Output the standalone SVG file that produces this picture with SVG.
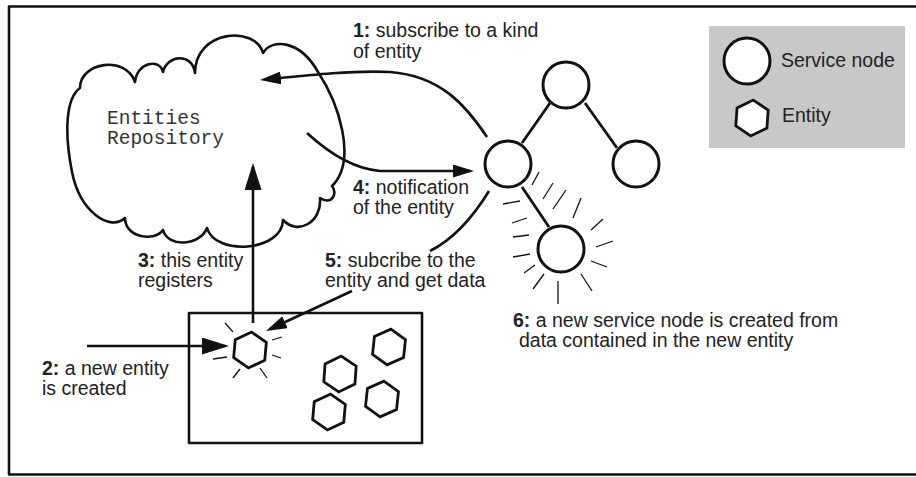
<svg xmlns="http://www.w3.org/2000/svg" width="916" height="477" viewBox="0 0 916 477">
  <style>
    .lbl { font-family: "Liberation Sans", Arial, Helvetica, sans-serif; font-size: 19.5px; fill: #222; }
    .mono { font-family: "Liberation Mono", "Courier New", monospace; font-size: 19.5px; fill: #333; }
    .b { font-weight: bold; }
    .stroke { fill: none; stroke: #111; stroke-width: 2.6; stroke-linejoin: round; }
    .node { fill: #fff; stroke: #111; stroke-width: 3; }
    .hex { fill: #fff; stroke: #111; stroke-width: 2.8; stroke-linejoin: miter; }
    .edge { fill: none; stroke: #111; stroke-width: 2.8; }
    .ray { fill: none; stroke: #111; stroke-width: 1.3; stroke-linecap: butt; }
    .conn { fill: none; stroke: #111; stroke-width: 2.6; }
  </style>
  <defs>
    <marker id="head-s" markerUnits="userSpaceOnUse" markerWidth="22" markerHeight="13" refX="17" refY="6.5" orient="auto">
      <path d="M0,0 L21,6.5 L0,13 z" fill="#111"/>
    </marker>
    <marker id="head-l" markerUnits="userSpaceOnUse" markerWidth="28" markerHeight="17" refX="23" refY="8.5" orient="auto">
      <path d="M0,0 L27,8.5 L0,17 z" fill="#111"/>
    </marker>
    <polygon id="hexagon" points="0,-18 15.6,-9 15.6,9 0,18 -15.6,9 -15.6,-9"/>
  </defs>

  <rect width="916" height="477" fill="#fff"/>
  <!-- outer frame -->
  <path d="M 930 6.5 L 9 6.5 L 9 474.5 L 930 474.5" class="stroke" stroke-width="2.8"/>

  <!-- repository cloud -->
  <g id="repository">
    <path class="stroke" d="M 80 88
      C 80 62, 126 55, 135 82
      C 137 62, 160 58, 163 72
      C 167 55, 192 52, 195 73
      C 195 30, 255 25, 263 53
      C 272 38, 300 40, 318 72
      C 338 102, 358 160, 332 186
      C 338 193, 332 206, 320 198
      C 322 222, 298 236, 283 220
      C 282 252, 215 256, 207 228
      C 200 246, 168 248, 163 230
      C 155 242, 125 238, 125 218
      C 110 232, 80 212, 72 172
      C 64 132, 66 98, 80 88 Z"/>
    <text class="mono" x="107" y="124">Entities</text>
    <text class="mono" x="107" y="144">Repository</text>
  </g>

  <!-- legend -->
  <g id="legend">
    <rect x="709" y="26" width="196" height="122" fill="#c8c8c8"/>
    <circle cx="747" cy="61" r="23" class="node"/>
    <text class="lbl" x="781" y="67">Service node</text>
    <use href="#hexagon" class="hex" transform="translate(752,118) rotate(4)"/>
    <text class="lbl" x="782" y="122">Entity</text>
  </g>

  <!-- service tree -->
  <g id="tree-edges">
    <line x1="550" y1="103" x2="522" y2="143" class="edge"/>
    <line x1="585" y1="103" x2="617" y2="148" class="edge"/>
    <line x1="522" y1="187" x2="549" y2="227" class="edge"/>
  </g>
  <g id="service-root"><circle cx="566" cy="85" r="23" class="node"/></g>
  <g id="service-left"><circle cx="508" cy="164" r="23" class="node"/></g>
  <g id="service-right"><circle cx="636" cy="164" r="23" class="node"/></g>
  <g id="service-new">
    <circle cx="561" cy="249" r="23" class="node"/>
    <g class="ray">
      <line x1="532" y1="185" x2="539" y2="172"/>
      <line x1="543" y1="199" x2="553" y2="183"/>
      <line x1="553" y1="209" x2="566" y2="190"/>
      <line x1="573" y1="218" x2="581" y2="198"/>
      <line x1="591" y1="230" x2="603" y2="219"/>
      <line x1="596" y1="247" x2="613" y2="241"/>
      <line x1="591" y1="261" x2="607" y2="267"/>
      <line x1="581" y1="274" x2="592" y2="291"/>
      <line x1="558" y1="281" x2="558" y2="304"/>
      <line x1="544" y1="274" x2="533" y2="289"/>
      <line x1="535" y1="265" x2="524" y2="273"/>
      <line x1="530" y1="254" x2="513" y2="257"/>
      <line x1="529" y1="235" x2="513" y2="237"/>
      <line x1="527" y1="218" x2="512" y2="223"/>
      <line x1="520" y1="201" x2="503" y2="204"/>
    </g>
  </g>

  <!-- entity pool -->
  <g id="entity-pool">
    <rect x="189" y="313" width="233" height="130" class="stroke" stroke-width="2.8"/>
  </g>
  <g id="entity-new">
    <use href="#hexagon" class="hex" transform="translate(250,350) rotate(5)"/>
    <g class="ray">
      <line x1="225" y1="323" x2="233" y2="332"/>
      <line x1="272" y1="340" x2="282" y2="337"/>
      <line x1="272" y1="355" x2="281" y2="358"/>
      <line x1="260" y1="368" x2="267" y2="378"/>
      <line x1="240" y1="369" x2="233" y2="378"/>
      <line x1="227" y1="357" x2="213" y2="359"/>
    </g>
  </g>
  <g id="entity-1"><use href="#hexagon" class="hex" transform="translate(389,347) rotate(6)"/></g>
  <g id="entity-2"><use href="#hexagon" class="hex" transform="translate(340,374) rotate(4)"/></g>
  <g id="entity-3"><use href="#hexagon" class="hex" transform="translate(382,399) rotate(6)"/></g>
  <g id="entity-4"><use href="#hexagon" class="hex" transform="translate(329,412) rotate(5)"/></g>

  <!-- connectors -->
  <g id="connectors">
    <path class="conn" d="M 487 137 C 465 104, 440 76, 390 72 C 350 70, 300 76, 264 79.7" marker-end="url(#head-s)"/>
    <path class="conn" d="M 307 133 Q 345 168, 380 171 L 470 171" marker-end="url(#head-s)"/>
    <path class="conn" d="M 253 323 L 253 167" marker-end="url(#head-l)"/>
    <path class="conn" d="M 87 346 L 225 346" marker-end="url(#head-l)"/>
    <path class="conn" d="M 489 191 Q 462 235, 430 251"/>
    <path class="conn" d="M 352 291 L 269.6 329.3" marker-end="url(#head-s)"/>
  </g>

  <!-- step labels -->
  <g id="labels">
    <text class="lbl" x="353" y="37"><tspan class="b">1:</tspan> subscribe to a kind</text>
    <text class="lbl" x="353" y="58">of entity</text>
    <text class="lbl" x="42" y="375"><tspan class="b">2:</tspan> a new entity</text>
    <text class="lbl" x="42" y="395">is created</text>
    <text class="lbl" x="138" y="267"><tspan class="b">3:</tspan> this entity</text>
    <text class="lbl" x="138" y="287">registers</text>
    <text class="lbl" x="353" y="194"><tspan class="b">4:</tspan> notification</text>
    <text class="lbl" x="353" y="214">of the entity</text>
    <text class="lbl" x="325" y="267"><tspan class="b">5:</tspan> subcribe to the</text>
    <text class="lbl" x="325" y="287">entity and get data</text>
    <text class="lbl" x="513" y="327"><tspan class="b">6:</tspan> a new service node is created from</text>
    <text class="lbl" x="519" y="347">data contained in the new entity</text>
  </g>
</svg>
